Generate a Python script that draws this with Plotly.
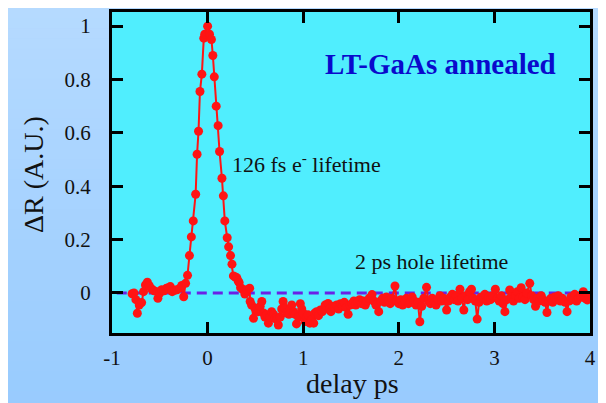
"""
Pump-probe reflectivity trace of annealed LT-GaAs, redrawn with Plotly.
"""
from plotly import graph_objects as go

# Delay [ps] and normalised reflectivity change
delay_ps = [
    -0.79, -0.77, -0.75, -0.735, -0.715, -0.69, -0.67, -0.65, -0.63, -0.61,
    -0.585, -0.56, -0.53, -0.52, -0.5, -0.48, -0.455, -0.43, -0.41, -0.39,
    -0.37, -0.345, -0.32, -0.29, -0.27, -0.25, -0.23, -0.21,
    -0.19, -0.17, -0.15, -0.125, -0.11, -0.095, -0.08, -0.06, -0.04, -0.03,
    0.0, 0.02, 0.04, 0.055, 0.07, 0.09, 0.11, 0.125, 0.15, 0.165,
    0.18, 0.205, 0.22, 0.24, 0.255, 0.27, 0.29, 0.305, 0.32, 0.33,
    0.345, 0.365, 0.39, 0.41, 0.44,
    0.445, 0.46, 0.48, 0.495, 0.51, 0.53, 0.55, 0.567, 0.585, 0.6,
    0.62, 0.636, 0.65, 0.67, 0.69, 0.705, 0.724, 0.74, 0.76, 0.775,
    0.79, 0.81, 0.83, 0.85, 0.865, 0.88, 0.9, 0.915, 0.93, 0.95,
    0.97, 0.985, 1.0, 1.02, 1.035, 1.05, 1.07, 1.09, 1.11, 1.12,
    1.14, 1.16, 1.18, 1.2, 1.215, 1.23, 1.26, 1.275, 1.29, 1.31,
    1.33, 1.35, 1.37, 1.39, 1.41, 1.43, 1.45, 1.47, 1.49, 1.51,
    1.53, 1.55, 1.57, 1.59, 1.61, 1.63, 1.65, 1.67, 1.69, 1.72,
    1.74, 1.76, 1.79, 1.81, 1.83, 1.85, 1.87, 1.89, 1.91, 1.93,
    1.96, 1.98, 2.0, 2.02, 2.04, 2.06, 2.08, 2.1, 2.12, 2.14,
    2.16, 2.18, 2.2, 2.22, 2.24, 2.26, 2.29, 2.31, 2.33, 2.35,
    2.37, 2.39, 2.41, 2.43, 2.45, 2.47, 2.5, 2.52, 2.54, 2.56,
    2.58, 2.6, 2.62, 2.64, 2.66, 2.68, 2.7, 2.72, 2.74, 2.76,
    2.78, 2.8, 2.82, 2.84, 2.86, 2.88, 2.9, 2.92, 2.94, 2.96,
    2.98, 3.01, 3.03, 3.05, 3.07, 3.09, 3.11, 3.13, 3.16, 3.18,
    3.2, 3.22, 3.24, 3.26, 3.28, 3.3, 3.32, 3.34, 3.37, 3.39,
    3.41, 3.43, 3.45, 3.47, 3.49, 3.51, 3.53, 3.55, 3.57, 3.59,
    3.61, 3.63, 3.65, 3.67, 3.69, 3.71, 3.74, 3.76, 3.78, 3.8,
    3.82, 3.84, 3.86, 3.88, 3.9, 3.93, 3.95, 3.97, 3.99,
]
delta_r = [
    -0.003, 0.0, -0.025, -0.076, -0.045, -0.036, 0.005, 0.03, 0.04, 0.027,
    0.015, 0.008, 0.005, -0.02, 0.0, 0.012, 0.008, 0.018, 0.02, 0.024,
    0.005, 0.01, 0.012, 0.018, 0.028, -0.014, 0.036, 0.066,
    0.14, 0.21, 0.27, 0.37, 0.52, 0.606, 0.755, 0.82, 0.955, 0.97,
    1.0, 0.97, 0.95, 0.89, 0.81, 0.70, 0.627, 0.53, 0.43, 0.364,
    0.27, 0.207, 0.173, 0.14, 0.108, 0.064, 0.06, 0.057, 0.045, 0.039,
    0.02, 0.014, -0.004, 0.012, 0.018,
    -0.032, -0.045, -0.095, -0.057, -0.064, -0.07, -0.05, -0.032, -0.075, -0.09,
    -0.082, -0.113, -0.09, -0.07, -0.08, -0.095, -0.1, -0.12, -0.09, -0.06,
    -0.032, -0.057, -0.075, -0.08, -0.06, -0.045, -0.07, -0.08, -0.116, -0.09,
    -0.04, -0.06, -0.076, -0.107, -0.09, -0.082, -0.113, -0.1, -0.113, -0.076,
    -0.07, -0.085, -0.064, -0.07, -0.06, -0.045, -0.039, -0.06, -0.07, -0.05,
    -0.055, -0.045, -0.06, -0.04, -0.05, -0.035, -0.055, -0.08, -0.045, -0.04,
    -0.03, -0.045, -0.035, -0.025, -0.04, -0.03, -0.045, -0.03, -0.02, -0.006,
    -0.03, -0.045, -0.07, -0.03, -0.02, -0.035, -0.015, -0.03, -0.04, -0.02,
    0.026, -0.03, -0.04, -0.025, -0.045, -0.03, -0.02, -0.04, -0.035, -0.015,
    -0.03, -0.045, -0.035, -0.108, -0.05, -0.02, 0.021, -0.03, -0.04, -0.02,
    -0.035, -0.045, -0.025, -0.01, -0.03, -0.02, -0.064, -0.03, -0.015, -0.005,
    -0.025, -0.01, -0.03, 0.014, -0.02, -0.064, -0.01, -0.025, 0.005, 0.014,
    -0.02, -0.03, -0.098, -0.035, -0.015, -0.02, -0.005, -0.03, -0.015, -0.025,
    -0.01, 0.014, -0.02, -0.03, -0.01, -0.04, -0.07, -0.025, 0.011, -0.015,
    -0.03, -0.01, 0.005, -0.02, 0.02, -0.015, -0.025, 0.0, 0.036, -0.01,
    -0.025, -0.05, -0.02, -0.03, -0.01, -0.025, -0.035, -0.073, -0.03, -0.02,
    -0.035, -0.015, -0.025, -0.01, -0.03, -0.02, -0.035, -0.07, -0.03, -0.015,
    -0.025, -0.005, -0.03, -0.02, -0.01, 0.005, -0.02, -0.026, -0.015,
]

# Dashed zero reference
zero_x = [-0.95, 4.0]
zero_y = [0, 0]

x_ticks = [-1, 0, 1, 2, 3, 4]
y_ticks = [0, 0.2, 0.4, 0.6, 0.8, 1]

FONT = "Liberation Serif"
INK = "#111111"
# the page body adds an 8 px offset, so everything is laid out 8 px up/left
OFF = 8
W, H = 606, 403
ML, MT = 112 - OFF, 12 - OFF
MR, MB = W - (590 - OFF), H - (333 - OFF)
PW, PH = W - ML - MR, H - MT - MB

fig = go.Figure()
fig.add_scatter(
    x=zero_x, y=zero_y, mode="lines",
    line=dict(color="#6A22E6", width=3, dash="10px,6px"),
    hoverinfo="skip",
)
fig.add_scatter(
    x=delay_ps, y=delta_r, mode="lines+markers",
    line=dict(color="#FF1414", width=2),
    marker=dict(color="#FF1414", size=9),
)

# vertical gradient behind everything (paper coordinates span the whole page)
top_rgb = (181, 218, 255)
bot_rgb = (152, 203, 254)
n_strips = 40
for i in range(n_strips):
    t = i / (n_strips - 1)
    col = tuple(round(a + (b - a) * t) for a, b in zip(top_rgb, bot_rgb))
    y_top = 1 + MT / PH - i * (H / n_strips) / PH
    y_bot = y_top - (H / n_strips) / PH - 0.002
    fig.add_shape(
        type="rect", xref="paper", yref="paper", layer="below",
        x0=-ML / PW, x1=1 + MR / PW, y0=y_bot, y1=y_top,
        fillcolor="rgb(%d,%d,%d)" % col, line_width=0,
    )
fig.add_shape(
    type="rect", xref="x domain", yref="y domain", layer="below",
    x0=0, x1=1, y0=0, y1=1, fillcolor="#50EEFE", line_width=0,
)

fig.add_annotation(
    x=2.44, y=0.86, text="<b>LT-GaAs annealed</b>", showarrow=False,
    font=dict(family=FONT, size=29, color="#0A0ACC"),
)
fig.add_annotation(
    x=0.235, y=0.487, xanchor="left", text="126 fs e<sup>-</sup> lifetime",
    showarrow=False, font=dict(family=FONT, size=22, color=INK),
)
fig.add_annotation(
    x=1.52, y=0.117, xanchor="left", text="2 ps hole lifetime",
    showarrow=False, font=dict(family=FONT, size=22, color=INK),
)
# axis titles placed by window pixel position
fig.add_annotation(
    xref="paper", yref="paper", xanchor="center", yanchor="middle",
    x=(352 - OFF - ML) / PW, y=(H - MB - (383 - OFF)) / PH,
    text="delay ps", showarrow=False,
    font=dict(family=FONT, size=28, color=INK),
)
fig.add_annotation(
    xref="paper", yref="paper", xanchor="center", yanchor="middle",
    x=(34 - OFF - ML) / PW, y=(H - MB - (175 - OFF)) / PH,
    text="ΔR (A.U.)", textangle=-90, showarrow=False,
    font=dict(family=FONT, size=28, color=INK),
)

axis_style = dict(
    showline=True, linecolor="black", linewidth=3, mirror="ticks",
    ticks="inside", ticklen=11, tickwidth=3, tickcolor="black",
    showgrid=False, zeroline=False, automargin=False,
    tickfont=dict(family=FONT, size=21, color=INK),
)
fig.update_xaxes(
    range=[-1, 4], tickvals=x_ticks, ticktext=[str(v) for v in x_ticks],
    ticklabelstandoff=4,
    **axis_style,
)
fig.update_yaxes(
    range=[-0.15, 1.053], tickvals=y_ticks, ticktext=[str(v) for v in y_ticks],
    ticklabelstandoff=14,
    **axis_style,
)
fig.update_layout(
    width=W, height=H,
    margin=dict(l=ML, r=MR, t=MT, b=MB),
    paper_bgcolor="#A8D3FF", plot_bgcolor="#50EEFE",
    showlegend=False,
)

fig.write_html("out.html")
